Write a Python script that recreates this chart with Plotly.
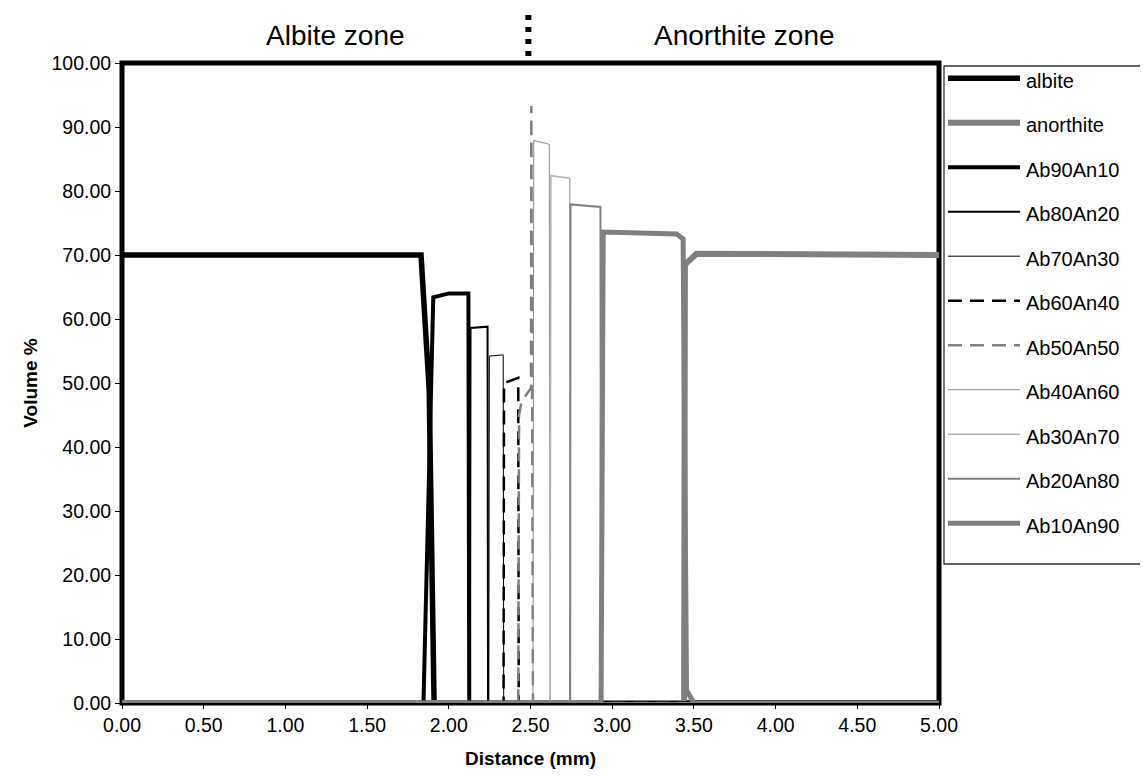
import plotly.graph_objects as go

# ---------------- data ----------------
series_names = ["albite", "anorthite", "Ab90An10", "Ab80An20", "Ab70An30", "Ab60An40",
                "Ab50An50", "Ab40An60", "Ab30An70", "Ab20An80", "Ab10An90"]

albite_x = [0.0, 1.83, 1.88, 1.91, 5.0]
albite_y = [70.0, 70.0, 49.0, 0.0, 0.0]

anorthite_x = [0.0, 3.44, 3.445, 3.516, 5.0]
anorthite_y = [0.0, 0.0, 68.5, 70.2, 70.0]

ab90an10_x = [0.0, 1.845, 1.905, 2.0, 2.12, 2.125, 5.0]
ab90an10_y = [0.0, 0.0, 63.4, 64.0, 64.0, 0.0, 0.0]

ab80an20_x = [0.0, 2.13, 2.133, 2.237, 2.24, 5.0]
ab80an20_y = [0.0, 0.0, 58.6, 58.8, 0.0, 0.0]

ab70an30_x = [0.0, 2.245, 2.248, 2.333, 2.336, 5.0]
ab70an30_y = [0.0, 0.0, 54.2, 54.4, 0.0, 0.0]

ab60an40_x = [0.0, 2.335, 2.338, 2.425, 2.428, 5.0]
ab60an40_y = [0.0, 0.0, 50.0, 50.8, 0.0, 0.0]

ab50an50_x = [0.0, 2.425, 2.43, 2.445, 2.503, 2.505, 2.515, 5.0]
ab50an50_y = [0.0, 0.0, 45.0, 47.1, 49.2, 93.3, 0.0, 0.0]

ab40an60_x = [0.0, 2.515, 2.52, 2.615, 2.62, 5.0]
ab40an60_y = [0.0, 0.0, 87.9, 87.3, 0.0, 0.0]

ab30an70_x = [0.0, 2.62, 2.625, 2.74, 2.745, 5.0]
ab30an70_y = [0.0, 0.0, 82.4, 82.0, 0.0, 0.0]

ab20an80_x = [0.0, 2.742, 2.745, 2.928, 2.932, 5.0]
ab20an80_y = [0.0, 0.0, 77.9, 77.5, 0.0, 0.0]

ab10an90_x = [0.0, 2.932, 2.945, 3.393, 3.434, 3.455, 3.50, 5.0]
ab10an90_y = [0.0, 0.0, 73.6, 73.3, 72.5, 2.0, 0.0, 0.0]

x_ticks = [0.0, 0.5, 1.0, 1.5, 2.0, 2.5, 3.0, 3.5, 4.0, 4.5, 5.0]
y_ticks = [0, 10, 20, 30, 40, 50, 60, 70, 80, 90, 100]

zone_labels = ["Albite zone", "Anorthite zone"]
zone_label_x = [1.309, 3.809]
zone_boundary_x = 2.487

xs = [albite_x, anorthite_x, ab90an10_x, ab80an20_x, ab70an30_x, ab60an40_x,
      ab50an50_x, ab40an60_x, ab30an70_x, ab20an80_x, ab10an90_x]
ys = [albite_y, anorthite_y, ab90an10_y, ab80an20_y, ab70an30_y, ab60an40_y,
      ab50an50_y, ab40an60_y, ab30an70_y, ab20an80_y, ab10an90_y]

# ---------------- styles ----------------
colors = ["#000000", "#808080", "#000000", "#000000", "#000000", "#000000",
          "#808080", "#8c8c8c", "#b4b4b4", "#808080", "#808080"]
widths = [5.5, 6, 4, 2, 1, 2.5, 2.5, 1, 1.5, 2, 5]
dashes = ["solid", "solid", "solid", "solid", "solid", "14px,8px",
          "14px,8px", "solid", "solid", "solid", "solid"]

FONT = "Liberation Sans, Arial, Helvetica, sans-serif"

W, H = 1148, 776
PL, PR, PT, PB = 114, 931, 55, 695


def paper_x(px):
    return (px - PL) / (PR - PL)


def paper_y(py):
    return (PB - py) / (PB - PT)


fig = go.Figure()
for name, x, y, c, w, d in zip(series_names, xs, ys, colors, widths, dashes):
    fig.add_trace(go.Scatter(x=x, y=y, mode="lines", name=name,
                             line=dict(color=c, width=w, dash=d),
                             showlegend=False, hoverinfo="skip"))

shapes = []
# plot-area frame (thick black), below traces
shapes.append(dict(type="rect", xref="paper", yref="paper", x0=0, x1=1, y0=0, y1=1,
                   line=dict(color="black", width=5), layer="below"))
# dotted zone boundary above plot
shapes.append(dict(type="line", xref="x", yref="paper", x0=zone_boundary_x, x1=zone_boundary_x,
                   y0=paper_y(48), y1=paper_y(7), line=dict(color="black", width=6, dash="5px,7px")))

# custom legend
leg_top, leg_step = 72.7, 44.5
shapes.append(dict(type="rect", xref="paper", yref="paper",
                   x0=paper_x(936), x1=paper_x(1160), y0=paper_y(556), y1=paper_y(58),
                   line=dict(color="#333333", width=1.3)))
annotations = []
for i, (name, c, w, d) in enumerate(zip(series_names, colors, widths, dashes)):
    cy = leg_top + i * leg_step
    ly = cy - 2.5
    shapes.append(dict(type="line", xref="paper", yref="paper",
                       x0=paper_x(940), x1=paper_x(1012), y0=paper_y(ly), y1=paper_y(ly),
                       line=dict(color=c, width=max(w, 1), dash=d)))
    annotations.append(dict(text=name, xref="paper", yref="paper", x=paper_x(1016),
                            y=paper_y(cy), xanchor="left", yanchor="middle", showarrow=False,
                            font=dict(family=FONT, size=20, color="black")))

for lab, lx in zip(zone_labels, zone_label_x):
    annotations.append(dict(text=lab, xref="x", yref="paper", x=lx, y=paper_y(28),
                            xanchor="center", yanchor="middle", showarrow=False,
                            font=dict(family=FONT, size=28, color="black")))

fig.update_layout(
    width=W, height=H,
    margin=dict(l=PL, r=W - PR, t=PT, b=H - PB),
    paper_bgcolor="white", plot_bgcolor="white",
    font=dict(family=FONT, color="black"),
    shapes=shapes, annotations=annotations,
    showlegend=False,
)
fig.update_xaxes(range=[0, 5], tickvals=x_ticks, tickformat=".2f", showgrid=False, zeroline=False,
                 ticks="outside", ticklen=5, tickcolor="black", tickwidth=1,
                 tickfont=dict(family=FONT, size=19.5),
                 title=dict(text="<b>Distance (mm)</b>", font=dict(family=FONT, size=19), standoff=16))
fig.update_yaxes(range=[0, 100], tickvals=y_ticks, tickformat=".2f", showgrid=False, zeroline=False,
                 ticks="outside", ticklen=6, tickcolor="black", tickwidth=1,
                 tickfont=dict(family=FONT, size=19.5),
                 title=dict(text="<b>Volume %</b>", font=dict(family=FONT, size=19), standoff=8))

fig.write_html("out.html")
